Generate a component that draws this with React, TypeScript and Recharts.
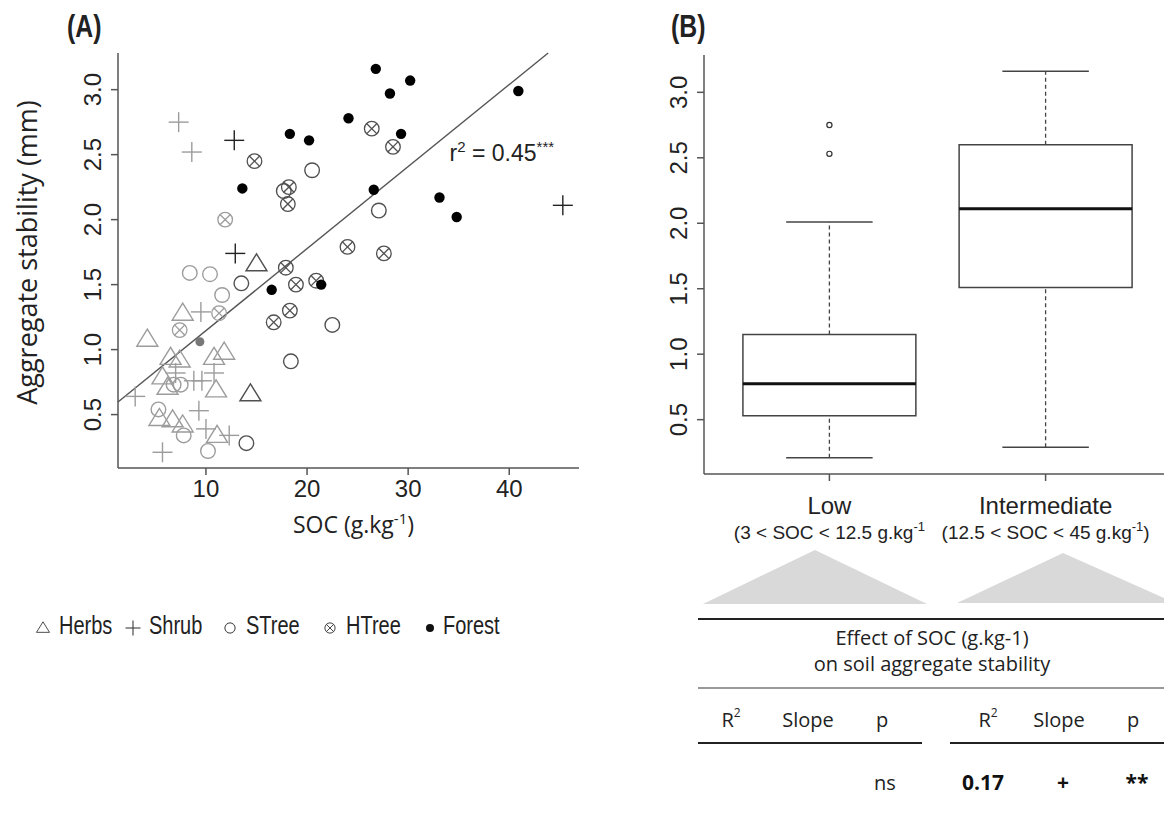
import React from "react";
import {
  ScatterChart,
  ComposedChart,
  Scatter,
  XAxis,
  YAxis,
  ReferenceLine,
  ReferenceArea,
  ReferenceDot,
} from "recharts";

type P = [number, number];

// panel A: [SOC g/kg, aggregate stability mm]
const herbsLight: P[] = [
  [4.2, 1.08], [7.7, 1.28], [6.5, 0.94], [7.4, 0.92], [10.8, 0.94], [11.8, 0.98],
  [5.7, 0.79], [6.2, 0.71], [11.0, 0.69], [5.4, 0.47], [6.7, 0.46], [7.7, 0.42], [11.1, 0.34],
];
const herbsDark: P[] = [[15.0, 1.66], [14.4, 0.66]];

const shrubLight: P[] = [
  [7.3, 2.75], [8.6, 2.52], [9.5, 1.29], [3.0, 0.64], [7.0, 0.82], [8.8, 0.76],
  [9.6, 0.76], [10.8, 0.82], [9.3, 0.53], [10.0, 0.39], [12.3, 0.34], [5.7, 0.21],
];
const shrubDark: P[] = [[12.8, 2.61], [12.9, 1.74], [45.3, 2.11]];

const streeLight: P[] = [
  [8.4, 1.59], [10.4, 1.58], [11.6, 1.42], [6.8, 0.73], [7.5, 0.73],
  [5.3, 0.54], [7.8, 0.34], [10.2, 0.22],
];
const streeDark: P[] = [
  [13.5, 1.51], [14.0, 0.28], [17.7, 2.22], [20.5, 2.38], [27.1, 2.07], [22.5, 1.19], [18.4, 0.91],
];

const htreeLight: P[] = [[11.9, 2.0], [11.3, 1.28], [7.4, 1.15]];
const htreeDark: P[] = [
  [14.8, 2.45], [18.2, 2.25], [18.1, 2.12], [24.0, 1.79], [17.9, 1.63], [18.9, 1.5],
  [20.9, 1.53], [16.7, 1.21], [18.3, 1.3], [26.4, 2.7], [28.5, 2.56], [27.6, 1.74],
];

const forestLight: P[] = [[9.4, 1.06]];
const forestDark: P[] = [
  [18.3, 2.66], [20.2, 2.61], [24.1, 2.78], [13.6, 2.24], [26.8, 3.16], [30.2, 3.07],
  [28.2, 2.97], [29.3, 2.66], [40.9, 2.99], [26.6, 2.23], [33.1, 2.17], [34.8, 2.02],
  [21.4, 1.5], [16.5, 1.46],
];

const fitIntercept = 0.515;
const fitSlope = 0.0631;
const fitLabel = "0.45";

const socTicks = [10, 20, 30, 40];
const stabTicks = [0.5, 1, 1.5, 2, 2.5, 3];
const legendNames = ["Herbs", "Shrub", "STree", "HTree", "Forest"];

// panel B: box plot by SOC class
const classNames = ["Low", "Intermediate"];
const classRanges = ["(3 < SOC < 12.5 g.kg", "(12.5 < SOC < 45 g.kg"];
const classClose = ["", ")"];
const whiskerLow = [0.21, 0.29];
const boxQ1 = [0.53, 1.51];
const boxMedian = [0.775, 2.11];
const boxQ3 = [1.15, 2.6];
const whiskerHigh = [2.01, 3.16];
const outliersLow = [2.75, 2.53];

const tableCols = ["R", "Slope", "p"];
const tableLow = ["", "", "ns"];
const tableInter = ["0.17", "+", "**"];

const SOC_DOMAIN: [number, number] = [1.3, 46.9];
const STAB_DOMAIN: [number, number] = [0.089, 3.282];
const POS_DOMAIN: [number, number] = [0.42, 2.58];
const STAB_B_DOMAIN: [number, number] = [0.085, 3.285];

const ARIAL = "'Liberation Sans', Arial, sans-serif";
const CAL = "'Open Sans', sans-serif";
const LIGHT = "#9c9c9c";
const DARK = "#505050";
const AX = "#555";

const toPts = (a: P[]) => a.map(([soc, stab]) => ({ soc, stab }));

const tri = (c: string) => (p: any) => (
  <polygon
    points={`${p.cx},${p.cy - 10} ${p.cx - 10.5},${p.cy + 7} ${p.cx + 10.5},${p.cy + 7}`}
    fill="none" stroke={c} strokeWidth={1.4}
  />
);
const plus = (c: string) => (p: any) => (
  <g stroke={c} strokeWidth={1.4}>
    <line x1={p.cx - 10} y1={p.cy} x2={p.cx + 10} y2={p.cy} />
    <line x1={p.cx} y1={p.cy - 10} x2={p.cx} y2={p.cy + 10} />
  </g>
);
const ring = (c: string) => (p: any) => (
  <circle cx={p.cx} cy={p.cy} r={7.3} fill="none" stroke={c} strokeWidth={1.4} />
);
const crossRing = (c: string) => (p: any) => (
  <g stroke={c} strokeWidth={1.3} fill="none">
    <circle cx={p.cx} cy={p.cy} r={7.3} />
    <line x1={p.cx - 5.2} y1={p.cy - 5.2} x2={p.cx + 5.2} y2={p.cy + 5.2} />
    <line x1={p.cx - 5.2} y1={p.cy + 5.2} x2={p.cx + 5.2} y2={p.cy - 5.2} />
  </g>
);
const dot = (c: string, r: number) => (p: any) => <circle cx={p.cx} cy={p.cy} r={r} fill={c} />;

const YTick = (p: any) => (
  <text
    x={p.x - 8} y={p.y} transform={`rotate(-90 ${p.x - 8} ${p.y})`}
    textAnchor="middle" fontSize={24} fontFamily={ARIAL} fill="#222"
  >
    {Number(p.payload.value).toFixed(1)}
  </text>
);

const SocTick = (p: any) => (
  <text x={p.x} y={p.y + 20} textAnchor="middle" fontSize={24} fontFamily={ARIAL} fill="#222">
    {p.payload.value}
  </text>
);

const ClassTick = (p: any) => {
  const i = Math.round(p.payload.value) - 1;
  return (
    <g fontFamily={ARIAL} fill="#222">
      <text x={p.x} y={p.y + 31} textAnchor="middle" fontSize={24}>{classNames[i]}</text>
      <text x={p.x} y={p.y + 56} textAnchor="middle" fontSize={19}>
        {classRanges[i]}
        <tspan fontSize={13} dy={-8}>-1</tspan>
        <tspan dy={8}>{classClose[i]}</tspan>
      </text>
    </g>
  );
};

function PanelA() {
  const xTop = (STAB_DOMAIN[1] - fitIntercept) / fitSlope;
  const series: [P[], (p: any) => React.ReactElement][] = [
    [herbsLight, tri(LIGHT)],
    [herbsDark, tri(DARK)],
    [shrubLight, plus(LIGHT)],
    [shrubDark, plus("#222")],
    [streeLight, ring(LIGHT)],
    [streeDark, ring(DARK)],
    [htreeLight, crossRing(LIGHT)],
    [htreeDark, crossRing(DARK)],
    [forestLight, dot("#777", 4.5)],
    [forestDark, dot("#000", 5.2)],
  ];
  return (
    <ScatterChart width={600} height={560} margin={{ top: 53, right: 21, bottom: 0, left: 0 }}>
      <XAxis
        xAxisId="top" orientation="top" type="number" domain={SOC_DOMAIN} height={0}
        tick={false} tickLine={false} axisLine={{ stroke: AX, strokeWidth: 1.5 }}
      />
      <YAxis
        yAxisId="right" orientation="right" type="number" domain={STAB_DOMAIN} width={0}
        tick={false} tickLine={false} axisLine={{ stroke: AX, strokeWidth: 1.5 }}
      />
      <XAxis
        dataKey="soc" type="number" domain={SOC_DOMAIN} allowDataOverflow ticks={socTicks}
        height={92} tickSize={7} tick={<SocTick />}
        axisLine={{ stroke: AX, strokeWidth: 1.5 }} tickLine={{ stroke: AX, strokeWidth: 1.5 }}
        label={(lp: any) => {
          const vb = lp.viewBox;
          return (
            <text x={vb.x + vb.width / 2 + 5} y={vb.y + 65} textAnchor="middle" fontSize={23} fontFamily={CAL} fill="#222">
              SOC (g.kg<tspan fontSize={15} dy={-9}>-1</tspan><tspan dy={9}>)</tspan>
            </text>
          );
        }}
      />
      <YAxis
        dataKey="stab" type="number" domain={STAB_DOMAIN} allowDataOverflow ticks={stabTicks}
        width={118} tickSize={7} tick={<YTick />}
        axisLine={{ stroke: AX, strokeWidth: 1.5 }} tickLine={{ stroke: AX, strokeWidth: 1.5 }}
        label={(lp: any) => {
          const vb = lp.viewBox;
          const cx = vb.x + 37;
          const cy = vb.y + vb.height / 2 - 8;
          return (
            <text x={cx} y={cy} transform={`rotate(-90 ${cx} ${cy})`} textAnchor="middle" fontSize={27} fontFamily={CAL} fill="#222">
              Aggregate stability (mm)
            </text>
          );
        }}
      />
      <ReferenceLine
        segment={[
          { x: SOC_DOMAIN[0], y: fitIntercept + fitSlope * SOC_DOMAIN[0] },
          { x: xTop, y: fitIntercept + fitSlope * xTop },
        ]}
        stroke="#555" strokeWidth={1.4}
      />
      {series.map(([d, shape], i) => (
        <Scatter key={i} data={toPts(d)} shape={shape} isAnimationActive={false} />
      ))}
      <ReferenceDot
        x={34.1} y={2.51} r={0} fill="none" stroke="none"
        label={(lp: any) => (
          <text x={lp.viewBox.x} y={lp.viewBox.y + 8} fontSize={23} fontFamily={ARIAL} fill="#222">
            r<tspan fontSize={15} dy={-9}>2</tspan>
            <tspan dy={9}> = {fitLabel}</tspan>
            <tspan fontSize={15} dy={-9}>***</tspan>
          </text>
        )}
      />
    </ScatterChart>
  );
}

function PanelB() {
  const pos = classNames.map((_, i) => i + 1);
  const outliers = outliersLow.map((stab) => ({ pos: 1, stab }));
  return (
    <ComposedChart width={527} height={545} margin={{ top: 55, right: 0, bottom: 0, left: 0 }}>
      <XAxis
        xAxisId="top" orientation="top" type="number" domain={POS_DOMAIN} height={0}
        tick={false} tickLine={false} axisLine={{ stroke: AX, strokeWidth: 1.5 }}
      />
      <XAxis
        dataKey="pos" type="number" domain={POS_DOMAIN} allowDataOverflow ticks={pos}
        height={71} tickSize={7} tick={<ClassTick />}
        axisLine={{ stroke: AX, strokeWidth: 1.5 }} tickLine={{ stroke: AX, strokeWidth: 1.5 }}
      />
      <YAxis
        dataKey="stab" type="number" domain={STAB_B_DOMAIN} allowDataOverflow ticks={stabTicks}
        width={60} tickSize={7} tick={<YTick />}
        axisLine={{ stroke: AX, strokeWidth: 1.5 }} tickLine={{ stroke: AX, strokeWidth: 1.5 }}
      />
      {pos.map((x, i) => (
        <React.Fragment key={i}>
          <ReferenceLine segment={[{ x, y: whiskerLow[i] }, { x, y: boxQ1[i] }]} stroke="#444" strokeWidth={1.3} strokeDasharray="4 3" />
          <ReferenceLine segment={[{ x, y: boxQ3[i] }, { x, y: whiskerHigh[i] }]} stroke="#444" strokeWidth={1.3} strokeDasharray="4 3" />
          <ReferenceLine segment={[{ x: x - 0.2, y: whiskerLow[i] }, { x: x + 0.2, y: whiskerLow[i] }]} stroke="#444" strokeWidth={1.5} />
          <ReferenceLine segment={[{ x: x - 0.2, y: whiskerHigh[i] }, { x: x + 0.2, y: whiskerHigh[i] }]} stroke="#444" strokeWidth={1.5} />
          <ReferenceArea x1={x - 0.4} x2={x + 0.4} y1={boxQ1[i]} y2={boxQ3[i]} fill="#fff" fillOpacity={1} stroke="#444" strokeWidth={1.5} />
          <ReferenceLine segment={[{ x: x - 0.4, y: boxMedian[i] }, { x: x + 0.4, y: boxMedian[i] }]} stroke="#111" strokeWidth={3} />
        </React.Fragment>
      ))}
      <Scatter
        data={outliers} isAnimationActive={false}
        shape={(p: any) => <circle cx={p.cx} cy={p.cy} r={2.6} fill="none" stroke="#333" strokeWidth={1.2} />}
      />
    </ComposedChart>
  );
}

const legendShapes = [tri("#333"), plus("#333"), ring("#333"), crossRing("#333"), dot("#111", 4)];
const legendX = [43, 133, 230, 330, 430];

// narrow-looking text: Liberation Sans squeezed horizontally
const Narrow = ({ x, y, size, bold, children }: any) => (
  <text
    transform={`translate(${x} ${y}) scale(0.8 1)`}
    fontFamily={ARIAL} fontSize={size} fontWeight={bold ? "bold" : "normal"} fill="#222"
  >
    {children}
  </text>
);

export default function App() {
  const colLow = [731, 808, 882];
  const colInter = [988, 1059, 1133];
  return (
    <div style={{ position: "absolute", left: 0, top: 0, width: 1164, height: 814, overflow: "hidden", background: "#fff" }}>
      <div style={{ position: "absolute", left: 0, top: 0 }}>
        <PanelA />
      </div>
      <div style={{ position: "absolute", left: 644, top: 0 }}>
        <PanelB />
      </div>
      <svg width={1164} height={814} style={{ position: "absolute", left: 0, top: 0, pointerEvents: "none" }}>
        <Narrow x={67} y={37} size={31} bold>(A)</Narrow>
        <Narrow x={671} y={37} size={31} bold>(B)</Narrow>

        {legendNames.map((name, i) => {
          const small = [0.62, 0.75, 0.7, 0.7, 1][i];
          return (
            <g key={name}>
              <g transform={`translate(${legendX[i]} 628) scale(${small}) translate(${-legendX[i]} -628)`}>
                {legendShapes[i]({ cx: legendX[i], cy: 628 })}
              </g>
              <Narrow x={legendX[i] + (i === 4 ? 13 : 16)} y={634} size={25}>{name}</Narrow>
            </g>
          );
        })}

        <polygon points="703,604 815,550 927,604" fill="#d9d9d9" />
        <polygon points="957,603 1063,553 1175,603" fill="#d9d9d9" />

        <line x1={698} y1={619} x2={1164} y2={619} stroke="#222" strokeWidth={2} />
        <text x={932} y={645} textAnchor="middle" fontFamily={CAL} fontSize={20} fill="#222">Effect of SOC (g.kg-1)</text>
        <text x={932} y={671} textAnchor="middle" fontFamily={CAL} fontSize={20} fill="#222">on soil aggregate stability</text>
        <line x1={698} y1={688} x2={1164} y2={688} stroke="#999" strokeWidth={2} />
        {[colLow, colInter].map((cols, g) =>
          tableCols.map((c, j) => (
            <text key={`${g}-${j}`} x={cols[j]} y={727} textAnchor="middle" fontFamily={CAL} fontSize={20} fill="#222">
              {c}
              {j === 0 && <tspan fontSize={12} dy={-10}>2</tspan>}
            </text>
          ))
        )}
        <line x1={698} y1={743} x2={922} y2={743} stroke="#222" strokeWidth={2} />
        <line x1={950} y1={743} x2={1164} y2={743} stroke="#222" strokeWidth={2} />
        {tableLow.map((v, j) => (
          <text key={`l${j}`} x={colLow[j] + 3} y={790} textAnchor="middle" fontFamily={CAL} fontSize={20} fill="#222">{v}</text>
        ))}
        {tableInter.map((v, j) => (
          <text key={`i${j}`} x={colInter[j] + (j === 0 ? -5 : 4)} y={790} textAnchor="middle" fontFamily={CAL} fontSize={21} fontWeight="bold" fill="#111">{v}</text>
        ))}
      </svg>
    </div>
  );
}
